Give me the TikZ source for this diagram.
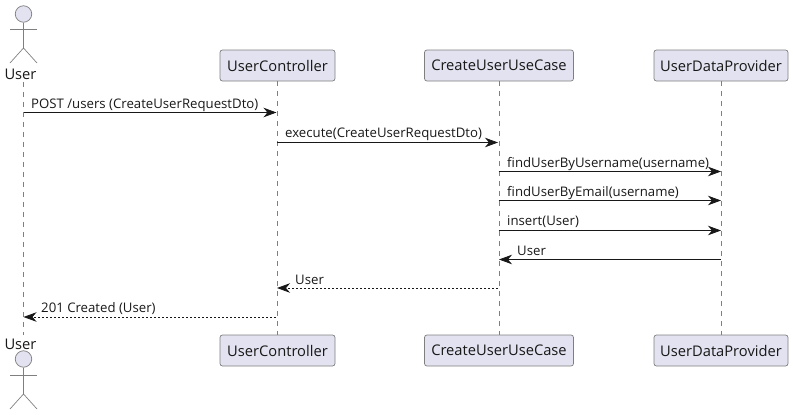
\documentclass[tikz,border=0pt]{standalone}
\usepackage{fontspec}
\setmainfont{Open Sans}
\usetikzlibrary{arrows.meta}
\definecolor{partfill}{HTML}{E2E2F0}
\definecolor{partline}{HTML}{7F7F7F}
\definecolor{ink}{HTML}{181818}
\tikzset{
  part/.style={draw=partline,fill=partfill,rounded corners=2.5pt,line width=.7pt,minimum height=31pt,inner sep=0pt,text=ink,font=\fontsize{14.7}{16}\selectfont},
  actorlabel/.style={inner sep=0pt,text=ink,font=\fontsize{14.7}{16}\selectfont},
  lifeline/.style={draw=partline,line width=.7pt,dash pattern=on 5pt off 5pt},
  limb/.style={draw=partline,line width=.7pt},
  msg/.style={draw=ink,line width=.8pt,-{Stealth[length=13pt,width=9.5pt,inset=4pt]},shorten >=.5pt},
  reply/.style={msg,dash pattern=on 2pt off 2pt},
  lbl/.style={anchor=base west,inner sep=0pt,text=ink,font=\fontsize{13.2}{14}\selectfont}
}
\begin{document}
\begin{tikzpicture}[x=1pt,y=-1pt]
\useasboundingbox (0,0) rectangle (793,415);
% participants
\node[part,minimum width=115pt] (ucT) at (277.5,65.5) {UserController};
\node[part,minimum width=149pt] (cuT) at (499,65.5) {CreateUserUseCase};
\node[part,minimum width=134pt] (dpT) at (721,65.5) {UserDataProvider};
\node[part,minimum width=115pt] (ucB) at (277.5,350.5) {UserController};
\node[part,minimum width=149pt] (cuB) at (499,350.5) {CreateUserUseCase};
\node[part,minimum width=134pt] (dpB) at (721,350.5) {UserDataProvider};
\node[actorlabel] (usT) at (20.5,74) {User};
\node[actorlabel] (usB) at (20.5,344) {User};
% lifelines
\coordinate (uT) at (23.5,82);
\coordinate (uB) at (23.5,335);
\draw[lifeline] (uT) -- (uB);
\draw[lifeline] (ucT.south) -- (ucB.north);
\draw[lifeline] (cuT.south) -- (cuB.north);
\draw[lifeline] (dpT.south) -- (dpB.north);
% actors
\node[circle,draw=partline,fill=partfill,line width=.7pt,minimum size=16.5pt,inner sep=0pt] (hT) at (23.5,14) {};
\coordinate (hipT) at (23.5,48);
\coordinate (alT) at (10,29); \coordinate (arT) at (37,29);
\coordinate (llT) at (10,63); \coordinate (lrT) at (37,63);
\draw[limb] (hT.south) -- (hipT);
\draw[limb] (alT) -- (arT);
\draw[limb] (llT) -- (hipT) -- (lrT);
\node[circle,draw=partline,fill=partfill,line width=.7pt,minimum size=16.5pt,inner sep=0pt] (hB) at (23.5,359) {};
\coordinate (hipB) at (23.5,394);
\coordinate (alB) at (10,375); \coordinate (arB) at (37,375);
\coordinate (llB) at (10,409); \coordinate (lrB) at (37,409);
\draw[limb] (hB.south) -- (hipB);
\draw[limb] (alB) -- (arB);
\draw[limb] (llB) -- (hipB) -- (lrB);
% message ends
\coordinate (a1) at (23.5,112.5); \coordinate (b1) at (277,112.5);
\coordinate (a2) at (277,142.5); \coordinate (b2) at (498.5,142.5);
\coordinate (a3) at (498.5,171.5); \coordinate (b3) at (721.5,171.5);
\coordinate (a4) at (498.5,200.5); \coordinate (b4) at (721.5,200.5);
\coordinate (a5) at (498.5,230.5); \coordinate (b5) at (721.5,230.5);
\coordinate (a6) at (721,259.5); \coordinate (b6) at (498.5,259.5);
\coordinate (a7) at (497.5,288); \coordinate (b7) at (276.5,288);
\coordinate (a8) at (275.5,317); \coordinate (b8) at (23,317);
\draw[msg] (a1) -- (b1);
\draw[msg] (a2) -- (b2);
\draw[msg] (a3) -- (b3);
\draw[msg] (a4) -- (b4);
\draw[msg] (a5) -- (b5);
\draw[msg] (a6) -- (b6);
\draw[reply] (a7) -- (b7);
\draw[reply] (a8) -- (b8);
% labels
\node[lbl] (l1) at (31,108) {POST /users (CreateUserRequestDto)};
\node[lbl] (l2) at (285,137) {execute(CreateUserRequestDto)};
\node[lbl] (l3) at (507,167) {findUserByUsername(username)};
\node[lbl] (l4) at (507,196) {findUserByEmail(username)};
\node[lbl] (l5) at (507,225) {insert(User)};
\node[lbl] (l6) at (517,255) {User};
\node[lbl] (l7) at (295,284) {User};
\node[lbl] (l8) at (41,312) {201 Created (User)};
\end{tikzpicture}
\end{document}
